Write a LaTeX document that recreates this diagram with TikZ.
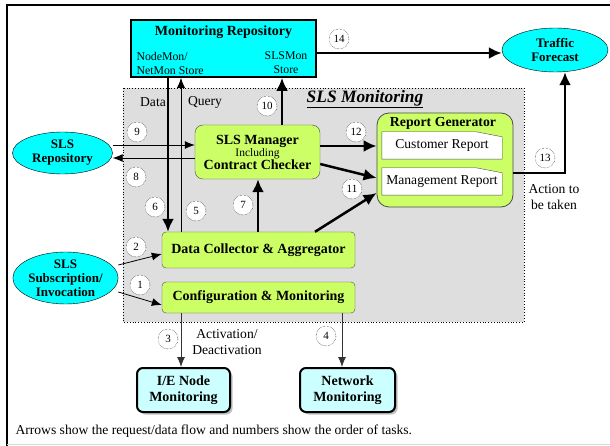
\documentclass[tikz,border=0pt]{standalone}
\usepackage{fontspec}
\setmainfont{Liberation Serif}
\usetikzlibrary{arrows.meta,calc,positioning,shapes.geometric,shadows}
\definecolor{aqua}{HTML}{00FFFF}
\definecolor{lime}{HTML}{CCFF66}
\definecolor{pale}{HTML}{CCFFFF}

\begin{document}
\begin{tikzpicture}[x=1pt, y=-1pt, >=Latex, font=\fontsize{13.6}{15}\selectfont]
\useasboundingbox (0,0) rectangle (610,446);

\tikzset{
    oval/.style={ellipse, draw, fill=aqua, inner sep=0pt, align=center, font=\bfseries\fontsize{13}{14}\selectfont},
    repo/.style={rectangle, draw, line width=1.6pt, fill=aqua},
    task/.style={rectangle, rounded corners=4pt, draw=black!70, fill=lime, inner sep=0pt, font=\bfseries\fontsize{14}{15}\selectfont},
    mon/.style={rectangle, rounded corners=6pt, draw, line width=2pt, fill=pale, align=center, inner sep=0pt,
        minimum width=93pt, minimum height=44pt, font=\bfseries\fontsize{14}{16}\selectfont,
        drop shadow={shadow xshift=2.5pt, shadow yshift=-2.5pt, fill=black!50}},
    doc/.style={inner sep=0pt, minimum width=120pt, minimum height=27pt, font=\fontsize{13.6}{15}\selectfont},
    num/.style={circle, draw, densely dotted, fill=white, minimum size=20pt, inner sep=0pt, font=\fontsize{11}{11}\selectfont},
    thin/.style={-{Latex[length=10pt,width=8pt]}, line width=0.8pt},
    thk/.style={-{Latex[length=13pt,width=12pt]}, line width=2.5pt}
}

% Frame
\draw[line width=1.5pt] (7,446) -- (7,5) -- (610,5);
\draw[black!15] (7,444) -- (610,444);

% SLS Monitoring area
\draw[dotted, thick, fill=black!13] (123,88) rectangle (524,322);
\node[font=\bfseries\itshape\fontsize{17.4}{18}\selectfont] (area) at (365,99) {\underline{SLS Monitoring}};
\node (data) at (153,102) {Data};
\node (query) at (205,102) {Query};

% Repository and forecast
\node[repo, minimum width=185pt, minimum height=57pt] (repo) at (223.5,48.5) {};
\node[font=\bfseries\fontsize{14}{15}\selectfont] (repotitle) at (223.5,32) {Monitoring Repository};
\node[anchor=west, align=left, font=\fontsize{11.8}{14}\selectfont] (netstore) at (133,63) {NodeMon/\\NetMon Store};
\node[align=center, font=\fontsize{11.8}{14}\selectfont] (slsstore) at (286,63) {SLSMon\\Store};
\node[oval, minimum width=106pt, minimum height=44pt] (tf) at (555,50) {Traffic\\Forecast};

% Ovals left
\node[oval, minimum width=100pt, minimum height=42pt] (slsrep) at (62.5,153) {SLS\\Repository};
\node[oval, minimum width=105pt, minimum height=52pt] (slssub) at (65.5,278) {SLS\\Subscription/\\Invocation};

% Task boxes
\node[task, rounded corners=8pt, minimum width=125pt, minimum height=54pt, align=center] (mgr) at (257.5,152)
    {SLS Manager\\[-3pt]{\mdseries\fontsize{11.5}{12}\selectfont Including}\\[-2pt]Contract Checker};
\node[task, minimum width=193pt, minimum height=36pt] (dca) at (258.5,250) {Data Collector \& Aggregator};
\node[task, minimum width=193pt, minimum height=31pt] (cfg) at (258.5,297.5) {Configuration \& Monitoring};

% Report generator
\node[task, rounded corners=12pt, line width=0.8pt, minimum width=136pt, minimum height=94pt] (rg) at (445,160) {};
\node[font=\bfseries\fontsize{13.8}{15}\selectfont] (rgtitle) at (443,123) {Report Generator};
\node[doc] (cust) at (442,145.5) {Customer Report};
\node[doc] (mgmt) at (442,181.5) {Management Report};
\foreach \d in {cust,mgmt}
    \draw[black!70, fill=white] (\d.south west) -- (\d.north west) -- ($(\d.north east)+(-26,0)$)
        -- ($(\d.north east)+(0,5)$) -- (\d.south east) -- cycle;
\node[doc] at (cust) {Customer Report};
\node[doc] at (mgmt) {Management Report};

% Monitoring boxes
\node[mon] (ie) at (183.5,390) {I/E Node\\Monitoring};
\node[mon, minimum width=95pt] (nm) at (347.5,390) {Network\\Monitoring};

% Arrows
\draw[thk] (repo.east |- 0,53) -- (tf.west |- 0,53);
\draw[thk] (repo.south -| 168,0) -- (dca.north -| 168,0);
\draw[thin] (dca.north -| 181,0) -- (repo.south -| 181,0);
\draw[thk] (mgr.north -| 282,0) -- (repo.south -| 282,0);
\draw[thin] (slsrep.east |- 0,145) -- (mgr.west |- 0,145);
\draw[thin] (mgr.west |- 0,158) -- (slsrep.east |- 0,158);
\draw[thk] (dca.north -| 258,0) -- (mgr.south -| 258,0);
\draw[thk] (mgr.east |- 0,146) -- (rg.west |- 0,146);
\draw[thk] (mgr.east |- 0,164) -- (rg.west |- 0,178);
\draw[thk] (dca.north -| 315,0) -- (rg.west |- 0,193);
\draw[thk] (rg.east |- 0,173) -| (tf.south -| 565,0);
\draw[thin] (slssub.east |- 0,265) -- (dca.west |- 0,254);
\draw[thin] (slssub.east |- 0,292) -- (cfg.west |- 0,305);
\draw[thin, black!80] (cfg.south -| 181,0) -- (ie.north -| 181,0);
\draw[thin, black!80] (cfg.south -| 342,0) -- (nm.north -| 342,0);

% Step numbers
\node[num] (n1) at (140,285) {1};
\node[num] (n2) at (136,247) {2};
\node[num] (n3) at (168,339) {3};
\node[num] (n4) at (326,336) {4};
\node[num] (n5) at (196,211) {5};
\node[num] (n6) at (155,207) {6};
\node[num] (n7) at (243,205) {7};
\node[num] (n8) at (136,177) {8};
\node[num] (n9) at (137,132) {9};
\node[num] (n10) at (267,106) {10};
\node[num] (n11) at (352,189) {11};
\node[num] (n12) at (356,132) {12};
\node[num] (n13) at (545,158) {13};
\node[num] (n14) at (339,39) {14};

% Other labels
\node[align=center, font=\fontsize{13.6}{16}\selectfont] (act) at (227,342) {Activation/\\Deactivation};
\node[align=center, font=\fontsize{13.6}{16}\selectfont] (todo) at (554,197) {Action to\\be taken};
\node[anchor=west] (caption) at (12,431) {Arrows show the request/data flow and numbers show the order of tasks.};

\end{tikzpicture}
\end{document}
